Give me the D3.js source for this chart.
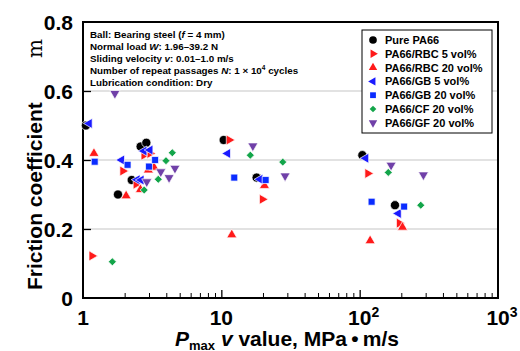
<!DOCTYPE html>
<html>
<head>
<meta charset="utf-8">
<script src="https://cdn.jsdelivr.net/npm/d3@7"></script>
<style>
  body { margin: 0; background: #fff; }
  svg { font-family: "Liberation Sans", Arial, sans-serif; }
</style>
</head>
<body>
<script>
// data: [Pmax*v (MPa m/s), friction coefficient]
var purePA66 = [[1.05,0.50],[1.79,0.30],[2.25,0.342],[2.61,0.439],[2.87,0.450],[10.4,0.458],[18.0,0.349],[104.6,0.414],[180,0.269]];
var rbc5 = [[1.16,0.122],[1.94,0.368],[2.42,0.330],[2.76,0.414],[3.05,0.419],[11.4,0.458],[19.8,0.286],[114.5,0.361],[193.6,0.217]];
var rbc20 = [[1.20,0.419],[2.05,0.296],[2.60,0.314],[2.97,0.371],[3.26,0.379],[20.5,0.326],[11.9,0.183],[119,0.166],[204,0.205]];
var gb5 = [[1.11,0.506],[1.90,0.400],[2.46,0.343],[2.63,0.342],[2.76,0.426],[3.05,0.429],[11.1,0.419],[19.0,0.344],[110.7,0.405],[190.4,0.245]];
var gb20 = [[1.215,0.395],[2.10,0.386],[3.00,0.381],[3.32,0.400],[12.4,0.349],[20.9,0.342],[122,0.279],[209.5,0.265]];
var cf20 = [[1.63,0.105],[2.77,0.313],[3.50,0.344],[3.98,0.398],[4.42,0.421],[16.2,0.414],[27.8,0.394],[161,0.364],[276.5,0.269]];
var gf20 = [[1.70,0.593],[2.89,0.337],[3.65,0.366],[4.19,0.349],[4.62,0.376],[16.9,0.441],[28.9,0.354],[168.7,0.385],[289,0.357]];

var seriesNames = ["Pure PA66", "PA66/RBC 5 vol%", "PA66/RBC 20 vol%", "PA66/GB 5 vol%", "PA66/GB 20 vol%", "PA66/CF 20 vol%", "PA66/GF 20 vol%"];
var seriesData = [purePA66, rbc5, rbc20, gb5, gb20, cf20, gf20];
var colors = ["#000000", "#ff1a1a", "#ff1a1a", "#1a1aff", "#0a2cff", "#13a54a", "#7040a8"];
var yTicks = [0, 0.2, 0.4, 0.6, 0.8];
var xMajor = [1, 10, 100, 1000];
var xLabels = [["1", ""], ["10", ""], ["10", "2"], ["10", "3"]];

var width = 520, height = 351;
var plotLeft = 83, plotRight = 498, plotTop = 22, plotBottom = 298;

var svg = d3.select("body").append("svg")
    .attr("width", width)
    .attr("height", height);

var x = d3.scaleLog().domain([1, 1000]).range([plotLeft, plotRight]);
var y = d3.scaleLinear().domain([0, 0.8]).range([plotBottom, plotTop]);

// marker shapes, one per series
var markers = [
    { type: d3.symbolCircle, size: 66, rot: 0 },
    { type: d3.symbolTriangle, size: 44, rot: 90 },
    { type: d3.symbolTriangle, size: 44, rot: 0 },
    { type: d3.symbolTriangle, size: 44, rot: -90 },
    { type: d3.symbolSquare, size: 48, rot: 0 },
    { type: d3.symbolSquare, size: 32, rot: 45 },
    { type: d3.symbolTriangle, size: 44, rot: 180 }
];

// grid lines
svg.append("g")
    .selectAll("line")
    .data([0.2, 0.4, 0.6])
    .enter().append("line")
    .attr("x1", plotLeft).attr("x2", plotRight)
    .attr("y1", function (d) { return y(d); })
    .attr("y2", function (d) { return y(d); })
    .style("stroke", "#d8d8d8")
    .style("stroke-width", "1.6px");

// x ticks (inside, major + minor)
var minor = [];
[1, 10, 100].forEach(function (dec) {
    for (var k = 2; k <= 9; k++) minor.push(dec * k);
});
svg.append("g")
    .attr("transform", "translate(0," + plotBottom + ")")
    .call(d3.axisBottom(x).tickValues(minor).tickSize(-5).tickFormat(""))
    .call(function (g) { g.select(".domain").remove(); })
    .selectAll("line").style("stroke", "#000").style("stroke-width", "1px");
svg.append("g")
    .attr("transform", "translate(0," + plotBottom + ")")
    .call(d3.axisBottom(x).tickValues([10, 100]).tickSize(-8).tickFormat(""))
    .call(function (g) { g.select(".domain").remove(); })
    .selectAll("line").style("stroke", "#000").style("stroke-width", "1.3px");

// y ticks
svg.append("g")
    .attr("transform", "translate(" + plotLeft + ",0)")
    .call(d3.axisLeft(y).tickValues([0.2, 0.4, 0.6]).tickSize(-8).tickFormat(""))
    .call(function (g) { g.select(".domain").remove(); })
    .selectAll("line").style("stroke", "#000").style("stroke-width", "1.3px");

// frame
svg.append("rect")
    .attr("x", plotLeft).attr("y", plotTop)
    .attr("width", plotRight - plotLeft).attr("height", plotBottom - plotTop)
    .style("fill", "none")
    .style("stroke", "#000")
    .style("stroke-width", "2px");

// y tick labels
svg.append("g")
    .selectAll("text")
    .data(yTicks)
    .enter().append("text")
    .attr("x", 73)
    .attr("y", function (d) { return y(d) + 7.5; })
    .attr("text-anchor", "end")
    .style("font-size", "21px")
    .style("font-weight", "700")
    .text(function (d) { return d === 0 ? "0" : d3.format(".1f")(d); });

// x tick labels
var xl = svg.append("g")
    .selectAll("text")
    .data(xMajor)
    .enter().append("text")
    .attr("x", function (d, i) { return x(d) + (i > 1 ? 4 : 0); })
    .attr("y", 325)
    .attr("text-anchor", "middle")
    .style("font-size", "21px")
    .style("font-weight", "700");
xl.append("tspan").text(function (d, i) { return xLabels[i][0]; });
xl.append("tspan")
    .attr("dy", -8)
    .style("font-size", "14px")
    .text(function (d, i) { return xLabels[i][1]; });

// axis titles
var yt = svg.append("g").attr("transform", "translate(42,0) rotate(-90)");
yt.append("text")
    .attr("x", -290)
    .attr("y", 0)
    .style("font-size", "21px")
    .style("font-weight", "700")
    .text("Friction coefficient");
yt.append("text")
    .attr("x", -58)
    .attr("y", 0)
    .style("font-size", "20px")
    .style("font-family", "'DejaVu Serif', serif")
    .text("m");

var xt = svg.append("text")
    .attr("x", 175)
    .attr("y", 346)
    .style("font-size", "21px")
    .style("font-weight", "700");
xt.append("tspan").style("font-style", "italic").text("P");
xt.append("tspan").attr("dy", 4).style("font-size", "13px").text("max");
xt.append("tspan").attr("dy", -4).style("font-style", "italic").text(" v");
xt.append("tspan").text(" value, MPa\u2009\u2022\u2009m/s");

// test conditions text
var info = svg.append("g").style("font-size", "9.8px").style("font-weight", "700");
var infoLines = [
    [["Ball: Bearing steel (", ""], ["f", "i"], [" = 4 mm)", ""]],
    [["Normal load ", ""], ["W", "i"], [": 1.96\u201339.2 N", ""]],
    [["Sliding velocity ", ""], ["v", "i"], [": 0.01\u20131.0 m/s", ""]],
    [["Number of repeat passages ", ""], ["N", "i"], [": 1 \u00d7 10", ""], ["4", "s"], [" cycles", "b"]],
    [["Lubrication condition: Dry", ""]]
];
infoLines.forEach(function (parts, i) {
    var t = info.append("text").attr("x", 90).attr("y", 38 + i * 12);
    parts.forEach(function (p) {
        var ts = t.append("tspan").text(p[0]);
        if (p[1] === "i") ts.style("font-style", "italic");
        if (p[1] === "s") ts.attr("dy", -4).style("font-size", "6.5px");
        if (p[1] === "b") ts.attr("dy", 4);
    });
});

// data points
seriesData.forEach(function (pts, i) {
    var m = markers[i];
    svg.append("g")
        .selectAll("path")
        .data(pts)
        .enter().append("path")
        .attr("d", d3.symbol().type(m.type).size(m.size))
        .attr("transform", function (d) {
            return "translate(" + x(d[0]) + "," + y(d[1]) + ") rotate(" + m.rot + ")";
        })
        .style("fill", colors[i])
        .style("stroke", "#fff")
        .style("stroke-width", "0.7px");
});

// legend
var legend = svg.append("g");
legend.append("rect")
    .attr("x", 362).attr("y", 30)
    .attr("width", 130).attr("height", 103)
    .style("fill", "#fff")
    .style("stroke", "#000")
    .style("stroke-width", "1px");
seriesNames.forEach(function (name, i) {
    var ly = 40 + i * 13.8;
    var m = markers[i];
    legend.append("path")
        .attr("d", d3.symbol().type(m.type).size(m.size * 0.7))
        .attr("transform", "translate(373," + ly + ") rotate(" + m.rot + ")")
        .style("fill", colors[i]);
    legend.append("text")
        .attr("x", 385)
        .attr("y", ly + 4)
        .style("font-size", "11px")
        .style("font-weight", "700")
        .text(name);
});
</script>
</body>
</html>
